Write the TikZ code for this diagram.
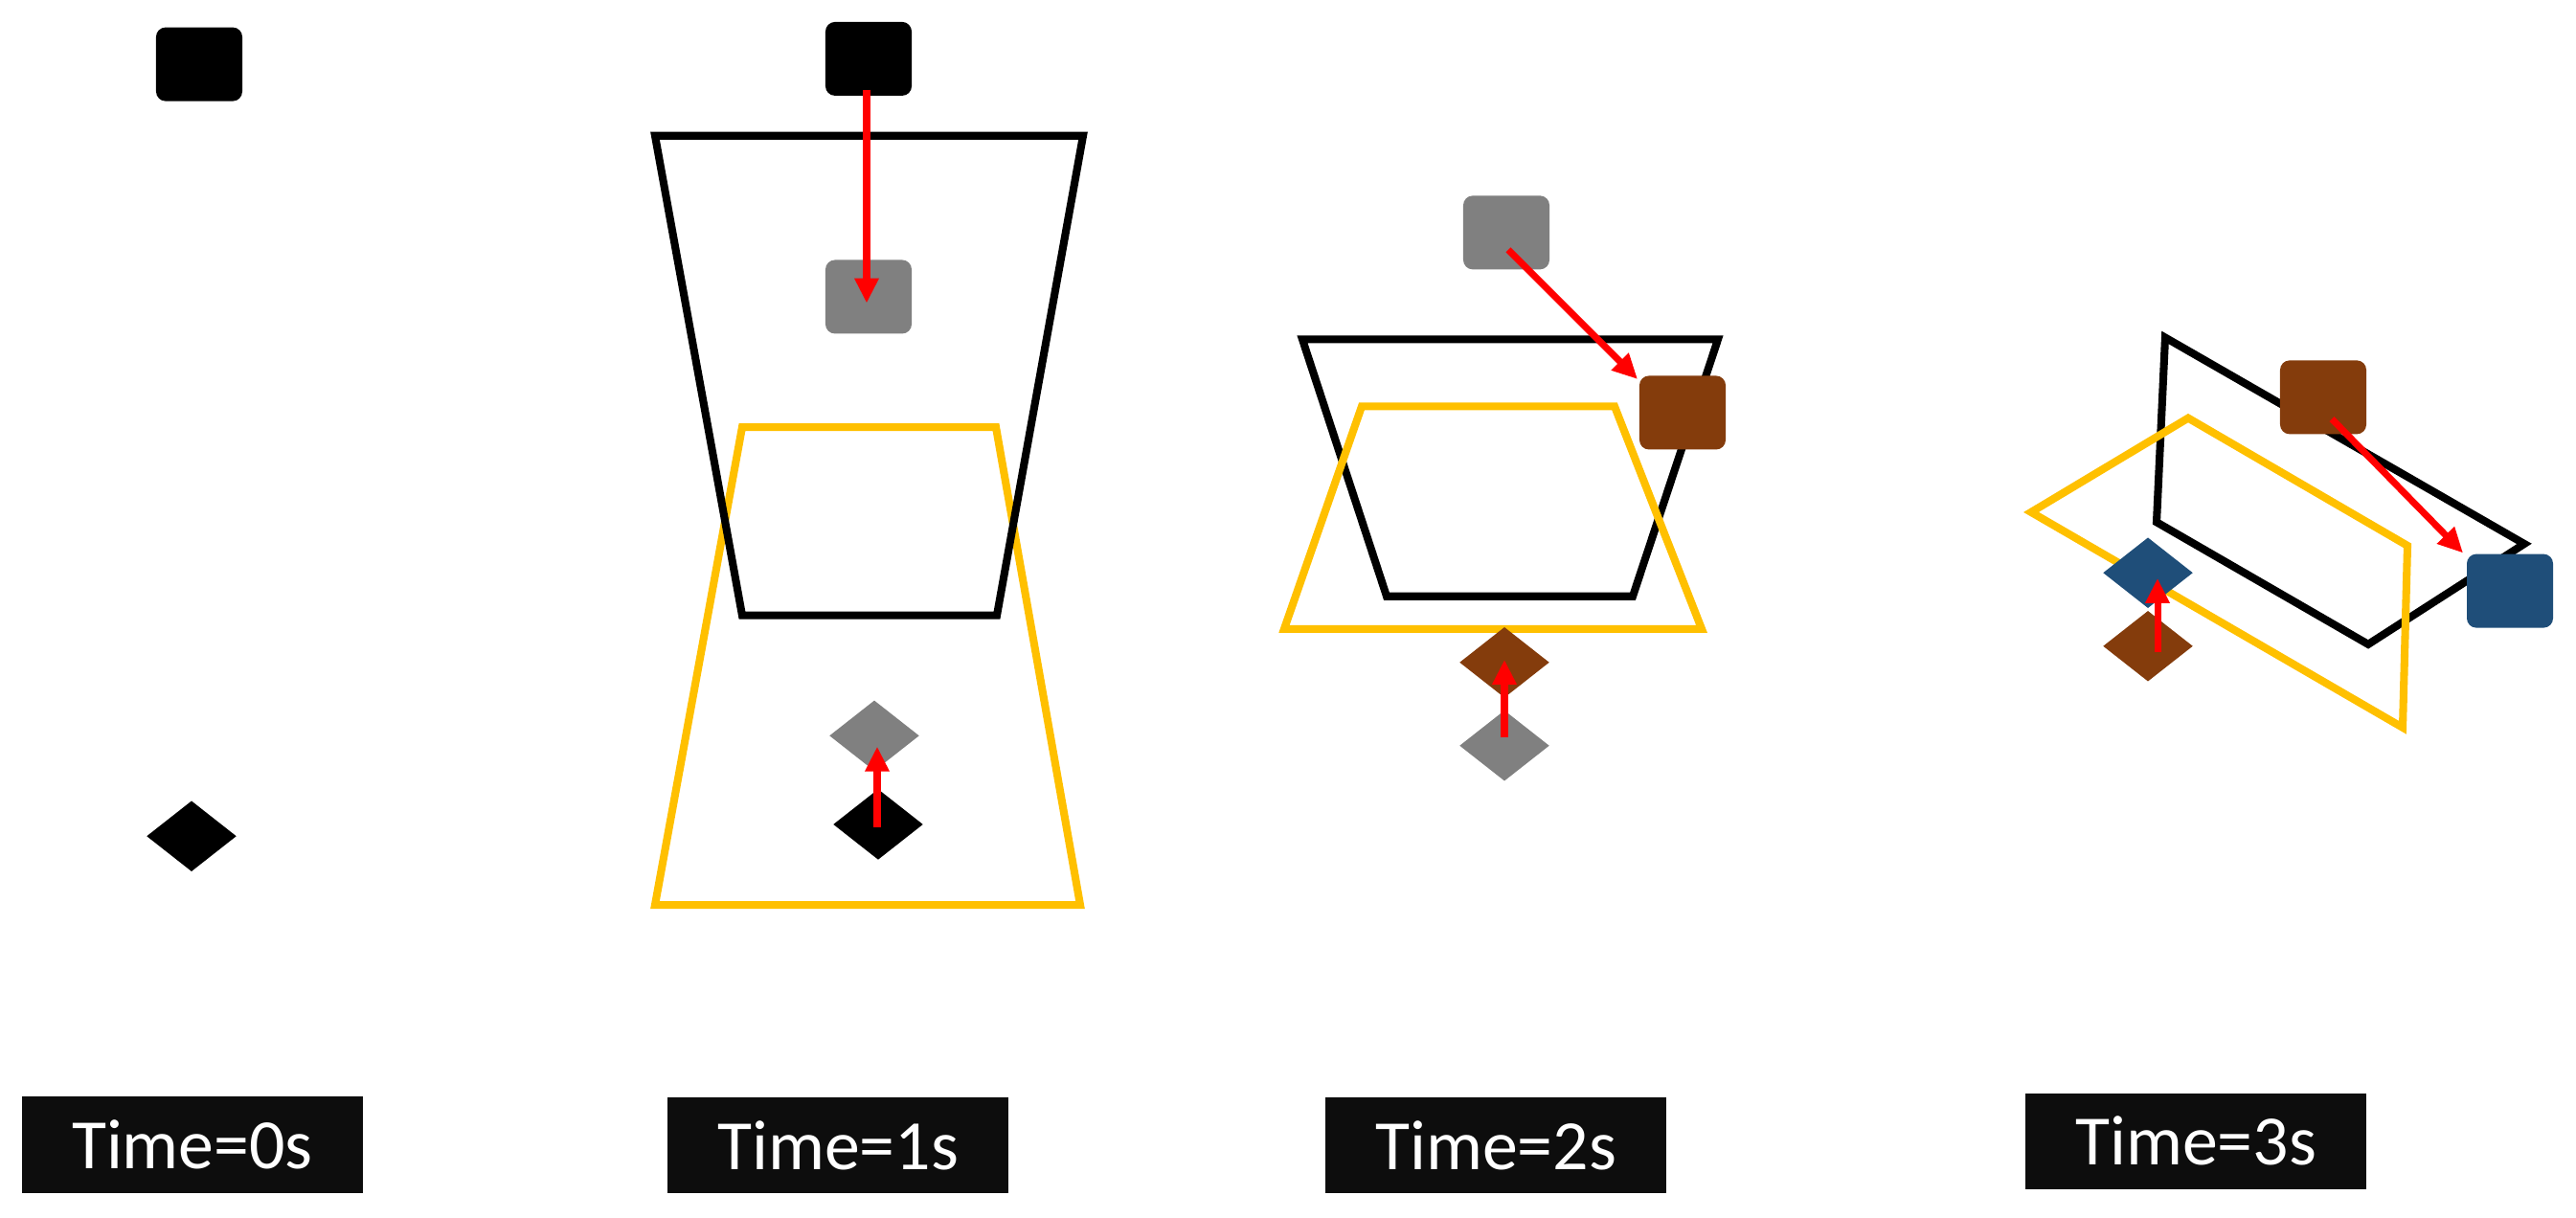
\documentclass[tikz,border=0pt]{standalone}
\usepackage{fontspec}
\setmainfont{Carlito}
\usetikzlibrary{shapes.geometric,arrows.meta}
\definecolor{gold}{HTML}{FFC000}
\definecolor{brn}{HTML}{843C0C}
\definecolor{blu}{HTML}{1F4E79}
\definecolor{gry}{HTML}{808080}
\begin{document}
\begin{tikzpicture}[x=0.01cm,y=-0.00944cm,
  sq/.style={rectangle,rounded corners=0.1cm,minimum width=0.9cm,minimum height=0.77cm,inner sep=0,fill=#1},
  dm/.style={diamond,minimum width=0.94cm,minimum height=0.74cm,inner sep=0,fill=#1},
  frame/.style={line width=2.3pt,line join=miter},
  arr/.style={draw=red,line width=2pt,-{Triangle[length=0.26cm,width=0.24cm]}},
  lab/.style={fill=black!95,text=white,minimum width=3.56cm,minimum height=1.0cm,inner sep=0,font=\fontsize{21}{24}\selectfont}]
\useasboundingbox (0,0) rectangle (2690,1345.3);
% Time 0
\node[sq=black] (s0) at (208,71) {};
\node[dm=black] (d0) at (200,924) {};
\node[lab] (l0) at (201,1265) {Time=0s};
% Time 1
\draw[frame,gold] (775,472) -- (1040,472) -- (1128,1000) -- (684,1000) -- cycle;
\draw[frame,black] (684,150) -- (1131,150) -- (1041,680) -- (775,680) -- cycle;
\node[sq=black] (s1a) at (907,65) {};
\node[sq=gry] (s1b) at (907,328) {};
\node[dm=gry] (d1b) at (913,813) {};
\node[dm=black] (d1a) at (917,911) {};
\coordinate (a1s) at (905,99);
\coordinate (a1e) at (905,335);
\draw[arr] (a1s) -- (a1e);
\coordinate (b1s) at (916,914);
\coordinate (b1e) at (916,825);
\draw[arr] (b1s) -- (b1e);
\node[lab] (l1) at (875,1266) {Time=1s};
% Time 2
\draw[frame,black] (1360,375) -- (1794,375) -- (1705,659) -- (1448,659) -- cycle;
\draw[frame,gold] (1422,449) -- (1686,449) -- (1777,695) -- (1341,695) -- cycle;
\node[sq=gry] (s2a) at (1573,257) {};
\node[sq=brn] (s2b) at (1757,456) {};
\node[dm=brn] (d2b) at (1571,732) {};
\node[dm=gry] (d2a) at (1571,824) {};
\coordinate (a2s) at (1575,276);
\coordinate (a2e) at (1710,419);
\draw[arr] (a2s) -- (a2e);
\coordinate (b2s) at (1571,815);
\coordinate (b2e) at (1571,729);
\draw[arr] (b2s) -- (b2e);
\node[lab] (l2) at (1562,1266) {Time=2s};
% Time 3
\draw[frame,black] (2261,373) -- (2636,601) -- (2473,712) -- (2252,577) -- cycle;
\draw[frame,gold] (2285,462) -- (2514,603) -- (2509,804) -- (2121,566) -- cycle;
\node[sq=brn] (s3a) at (2426,439) {};
\node[sq=blu] (s3b) at (2621,653) {};
\node[dm=blu] (d3b) at (2243,633) {};
\node[dm=brn] (d3a) at (2243,714) {};
\coordinate (a3s) at (2435,463);
\coordinate (a3e) at (2572,611);
\draw[arr] (a3s) -- (a3e);
\coordinate (b3s) at (2253,721);
\coordinate (b3e) at (2253,639);
\draw[arr] (b3s) -- (b3e);
\node[lab] (l3) at (2293,1261) {Time=3s};
\end{tikzpicture}
\end{document}
